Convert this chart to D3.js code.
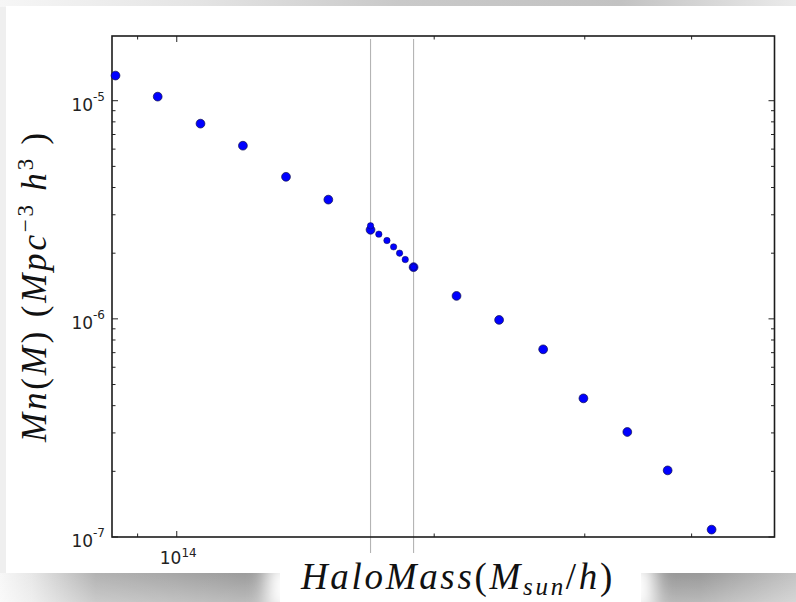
<!DOCTYPE html>
<html>
<head>
<meta charset="utf-8">
<script src="https://d3js.org/d3.v7.min.js"></script>
<style>
    body { margin: 0; background: #fff; }
    #chart-area { width: 796px; height: 602px; }
</style>
</head>
<body>
<div id="chart-area"></div>
<script>
// halo mass bins (M_sun/h) and M n(M) (Mpc^-3 h^3)
const haloMass = [8.48e13, 9.50e13, 1.066e14, 1.195e14, 1.342e14, 1.504e14, 1.685e14, 1.892e14,
    2.124e14, 2.382e14, 2.682e14, 2.989e14, 3.364e14, 3.750e14, 4.221e14];
const massFunction = [1.304e-5, 1.044e-5, 7.85e-6, 6.22e-6, 4.48e-6, 3.52e-6, 2.56e-6, 1.726e-6,
    1.274e-6, 9.89e-7, 7.25e-7, 4.32e-7, 3.03e-7, 2.02e-7, 1.081e-7];

// finer bins between the two cuts
const fineMass = [1.685e14, 1.723e14, 1.761e14, 1.793e14, 1.822e14, 1.850e14, 1.892e14];
const fineMassFunction = [2.67e-6, 2.445e-6, 2.286e-6, 2.138e-6, 2.000e-6, 1.870e-6, 1.726e-6];

// vertical cut lines (they run past the axes)
const cutMass = [1.685e14, 1.892e14];
const cutRange = [1.92e-5, 6.8e-8];

// axes
const xDomain = [8.4e13, 5e14];
const yDomain = [1e-7, 1.98e-5];
const xTickValues = [1e14];
const xTickLabels = [["10", "14"]];
const yTickValues = [1e-7, 1e-6, 1e-5];
const yTickLabels = [["10", "-7"], ["10", "-6"], ["10", "-5"]];

class massPlot {
    constructor(parentElement) {
        this.parentElement = parentElement;
        this.initVis();
    }

    initVis() {
        let vis = this;

        vis.margin = {top: 36, right: 21.5, bottom: 65, left: 112};
        vis.fullWidth = 796;
        vis.fullHeight = 602;
        vis.width = vis.fullWidth - vis.margin.left - vis.margin.right;
        vis.height = vis.fullHeight - vis.margin.top - vis.margin.bottom;

        vis.root = d3.select("#" + vis.parentElement).append("svg")
            .attr("width", vis.fullWidth)
            .attr("height", vis.fullHeight);

        vis.drawFrame();

        vis.svg = vis.root.append("g")
            .attr("transform", "translate(" + vis.margin.left + "," + vis.margin.top + ")");

        // log scales both ways
        vis.xScale = d3.scaleLog().domain(xDomain).range([0, vis.width]);
        vis.yScale = d3.scaleLog().domain(yDomain).range([vis.height, 0]);

        vis.wrangleData();
    }

    // screenshot look: shadows round the white card + the label box
    drawFrame() {
        let vis = this;
        let defs = vis.root.append("defs");

        let top = defs.append("linearGradient").attr("id", "topShade");
        [["0%", "#f6f6f6"], ["25%", "#e4e4e4"], ["50%", "#c9c9c9"], ["78%", "#c2c2c2"], ["100%", "#ebebeb"]]
            .forEach(s => top.append("stop").attr("offset", s[0]).attr("stop-color", s[1]));

        let bottom = defs.append("linearGradient").attr("id", "bottomShade");
        [["0%", "#f7f7f7"], ["4%", "#e6e6e6"], ["12%", "#aeaeae"], ["30%", "#979797"], ["65%", "#8a8a8a"], ["88%", "#949494"], ["100%", "#c0c0c0"]]
            .forEach(s => bottom.append("stop").attr("offset", s[0]).attr("stop-color", s[1]));

        let fade = defs.append("linearGradient").attr("id", "bottomFade")
            .attr("x1", 0).attr("y1", 0).attr("x2", 0).attr("y2", 1);
        fade.append("stop").attr("offset", "0%").attr("stop-color", "#fff").attr("stop-opacity", 0.05);
        fade.append("stop").attr("offset", "100%").attr("stop-color", "#fff").attr("stop-opacity", 0.35);

        defs.append("filter").attr("id", "glow")
            .attr("x", "-20%").attr("y", "-50%").attr("width", "140%").attr("height", "200%")
            .append("feGaussianBlur").attr("stdDeviation", 9);

        vis.root.append("rect").attr("width", vis.fullWidth).attr("height", vis.fullHeight).attr("fill", "#efefef");
        vis.root.append("rect").attr("width", vis.fullWidth).attr("height", 7).attr("fill", "url(#topShade)");
        vis.root.append("rect").attr("y", 573).attr("width", vis.fullWidth).attr("height", 29).attr("fill", "url(#bottomShade)");
        vis.root.append("rect").attr("y", 573).attr("width", vis.fullWidth).attr("height", 29).attr("fill", "url(#bottomFade)");
        vis.root.append("rect").attr("x", 266).attr("y", 562).attr("width", 389).attr("height", 50)
            .attr("fill", "#fff").attr("filter", "url(#glow)");

        // the white card
        vis.root.append("rect")
            .attr("x", 6).attr("y", 6)
            .attr("width", 790).attr("height", 567)
            .attr("fill", "#fff");
    }

    wrangleData() {
        let vis = this;

        vis.coarseData = haloMass.map((m, i) => ({mass: m, value: massFunction[i]}));
        vis.fineData = fineMass.map((m, i) => ({mass: m, value: fineMassFunction[i]}));

        vis.updateVis();
    }

    updateVis() {
        let vis = this;

        // cut lines first so the dots sit on top
        vis.svg.selectAll(".cut")
            .data(cutMass)
            .enter()
            .append("line")
            .attr("class", "cut")
            .attr("x1", d => vis.xScale(d))
            .attr("x2", d => vis.xScale(d))
            .attr("y1", vis.yScale(cutRange[0]))
            .attr("y2", vis.yScale(cutRange[1]))
            .attr("stroke", "#b4b4b4")
            .attr("stroke-width", 1.1);

        // ticks: inward, mirrored on all four sides
        let isMajor = v => Math.abs(Math.log10(v) - Math.round(Math.log10(v))) < 1e-6;
        let inside = (s, v) => {
            let p = s(v), r = s.range();
            return p > Math.min(r[0], r[1]) + 1 && p < Math.max(r[0], r[1]) - 1;
        };
        let xTicks = vis.xScale.ticks().filter(v => inside(vis.xScale, v));
        let yTicks = vis.yScale.ticks().filter(v => inside(vis.yScale, v) || yTickValues.includes(v));

        let tickG = vis.svg.append("g").attr("class", "ticks")
            .attr("stroke", "#222").attr("stroke-width", 1);
        xTicks.forEach(v => {
            let x = vis.xScale(v), len = isMajor(v) ? 6 : 3.5;
            tickG.append("line").attr("x1", x).attr("x2", x).attr("y1", vis.height).attr("y2", vis.height - len);
            tickG.append("line").attr("x1", x).attr("x2", x).attr("y1", 0).attr("y2", len);
        });
        yTicks.forEach(v => {
            let y = vis.yScale(v), len = isMajor(v) ? 6 : 3.5;
            tickG.append("line").attr("y1", y).attr("y2", y).attr("x1", 0).attr("x2", len);
            tickG.append("line").attr("y1", y).attr("y2", y).attr("x1", vis.width).attr("x2", vis.width - len);
        });

        // axes box
        vis.svg.append("rect")
            .attr("width", vis.width)
            .attr("height", vis.height)
            .attr("fill", "none")
            .attr("stroke", "#1c1c1c")
            .attr("stroke-width", 1.6);

        // tick labels, 10^n style
        let yLab = vis.svg.selectAll(".y-tick-label")
            .data(yTickValues)
            .enter()
            .append("text")
            .attr("class", "y-tick-label")
            .attr("x", -7)
            .attr("y", d => vis.yScale(d) + 10)
            .attr("text-anchor", "end")
            .style("font-family", "'DejaVu Sans', sans-serif")
            .style("font-size", "17px")
            .attr("fill", "#222");
        yLab.append("tspan").text((d, i) => yTickLabels[i][0]);
        yLab.append("tspan").attr("dy", -10).style("font-size", "12px").text((d, i) => yTickLabels[i][1]);

        let xLab = vis.svg.selectAll(".x-tick-label")
            .data(xTickValues)
            .enter()
            .append("text")
            .attr("class", "x-tick-label")
            .attr("x", d => vis.xScale(d) + 1.5)
            .attr("y", vis.height + 26.5)
            .attr("text-anchor", "middle")
            .style("font-family", "'DejaVu Sans', sans-serif")
            .style("font-size", "17px")
            .attr("fill", "#222");
        xLab.append("tspan").text((d, i) => xTickLabels[i][0]);
        xLab.append("tspan").attr("dy", -7).style("font-size", "12px").text((d, i) => xTickLabels[i][1]);

        // big dots, then the fine ones
        vis.svg.selectAll(".dot")
            .data(vis.coarseData)
            .enter()
            .append("circle")
            .attr("class", "dot")
            .attr("cx", d => vis.xScale(d.mass))
            .attr("cy", d => vis.yScale(d.value))
            .attr("r", 4.4)
            .attr("fill", "#0000ff")
            .attr("stroke", "#10104a")
            .attr("stroke-width", 0.7);

        vis.svg.selectAll(".fine-dot")
            .data(vis.fineData)
            .enter()
            .append("circle")
            .attr("class", "fine-dot")
            .attr("cx", d => vis.xScale(d.mass))
            .attr("cy", d => vis.yScale(d.value))
            .attr("r", 3.2)
            .attr("fill", "#0000ff")
            .attr("stroke", "#10104a")
            .attr("stroke-width", 0.5);

        // y-axis label (mathtext-ish)
        let yTitle = vis.root.append("text")
            .attr("class", "y-axis-label")
            .attr("transform", "translate(46, 286) rotate(-90)")
            .attr("text-anchor", "middle")
            .style("font-family", "'Liberation Serif', serif")
            .style("font-size", "35px")
            .attr("fill", "#111");
        let it = (t) => yTitle.append("tspan").style("font-style", "italic").text(t);
        let up = (t) => yTitle.append("tspan").text(t);
        it("Mn"); up("("); it("M"); up(") ("); it("Mpc");
        yTitle.append("tspan").attr("dy", -13).style("font-size", "23px").text("\u22123");
        yTitle.append("tspan").attr("dy", 13).text(" ");
        it("h");
        yTitle.append("tspan").attr("dy", -13).style("font-size", "23px").text("3");
        yTitle.append("tspan").attr("dy", 13).text(" )");
        vis.fitText(yTitle, 312);

        // x label sits in its own white box over the card edge
        vis.root.append("rect")
            .attr("x", 280).attr("y", 553)
            .attr("width", 361).attr("height", 49)
            .attr("fill", "#fff");

        let xTitle = vis.root.append("text")
            .attr("class", "x-axis-label")
            .attr("x", 458)
            .attr("y", 589)
            .attr("text-anchor", "middle")
            .style("font-family", "'Liberation Serif', serif")
            .style("font-size", "37px")
            .attr("fill", "#111");
        xTitle.append("tspan").style("font-style", "italic").text("HaloMass");
        xTitle.append("tspan").text("(");
        xTitle.append("tspan").style("font-style", "italic").text("M");
        xTitle.append("tspan").attr("dy", 6).style("font-style", "italic").style("font-size", "25px").text("sun");
        xTitle.append("tspan").attr("dy", -6).text("/");
        xTitle.append("tspan").style("font-style", "italic").text("h");
        xTitle.append("tspan").text(")");
        vis.fitText(xTitle, 314);
    }

    // stretch letter spacing so the label spans the same length as the original
    fitText(sel, target) {
        let node = sel.node();
        let w = node.getComputedTextLength();
        let n = node.textContent.length;
        if (w > 0 && n > 1) sel.attr("letter-spacing", ((target - w) / n).toFixed(2));
    }
}

new massPlot("chart-area");
</script>
</body>
</html>
